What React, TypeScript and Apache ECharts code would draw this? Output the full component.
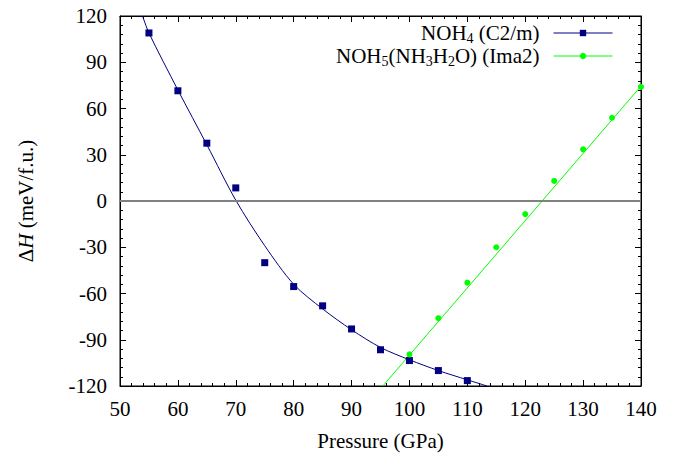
import React, { useEffect, useRef } from "react";
import * as echarts from "echarts";

const noh4Pressure = [55, 60, 65, 70, 75, 80, 85, 90, 95, 100, 105, 110];
const noh4Enthalpy = [109, 71.5, 37.5, 8.5, -40, -55.5, -68, -83, -96.5, -103.5, -110, -116.5];

const noh4FitPressure = [53.9, 55, 60, 65, 70, 75, 80, 85, 90, 95, 100, 105, 110, 113.4];
const noh4FitEnthalpy = [120, 109, 72, 36.5, 0.5, -29, -54, -70, -83.5, -95, -103, -110, -116, -120];

const noh5Pressure = [100, 105, 110, 115, 120, 125, 130, 135, 140];
const noh5Enthalpy = [-99.5, -76, -53, -30, -8.5, 13, 33.5, 54, 74];

const noh5FitPressure = [95.4, 140];
const noh5FitEnthalpy = [-120, 74.5];

const xTicks = { min: 50, max: 140, interval: 10 };
const yTicks = { min: -120, max: 120, interval: 30 };

const BLUE = "#000080";
const GREEN = "#00ff00";
const FONT = "Liberation Serif, DejaVu Serif, serif";

const zip = (xs: number[], ys: number[]) => xs.map((x, i) => [x, ys[i]]);

export default function App() {
  const ref = useRef<HTMLDivElement>(null);
  useEffect(() => {
    if (!ref.current) return;
    const chart = echarts.init(ref.current, null, { renderer: "svg" });
    const axisCommon = {
      axisLine: { show: true, onZero: false, lineStyle: { color: "#000", width: 1 } },
      axisTick: { show: true, inside: true, length: 6, lineStyle: { color: "#000" } },
      minorTick: { show: true, splitNumber: 5, length: 3, lineStyle: { color: "#000" } },
      splitLine: { show: false },
      minorSplitLine: { show: false },
    };
    const legendText = {
      fontFamily: FONT,
      fontSize: 21,
      color: "#000",
      lineHeight: 24,
      padding: [0, 9, 0, 0],
      rich: {
        s: { fontFamily: FONT, fontSize: 14, lineHeight: 24, verticalAlign: "bottom", padding: [9, 0, 0, 0], color: "#000" },
      },
    };
    const fmt = (name: string) =>
      name === "NOH4 (C2/m)" ? "NOH{s|4} (C2/m)" : "NOH{s|5}(NH{s|3}H{s|2}O) (Ima2)";
    chart.setOption({
      animation: false,
      backgroundColor: "#fff",
      textStyle: { fontFamily: FONT },
      grid: { left: 120, right: 41, top: 16, bottom: 71, show: true, borderColor: "#000", borderWidth: 1 },
      legend: [
        {
          data: ["NOH4 (C2/m)"],
          orient: "vertical",
          right: 69,
          top: 21,
          padding: 0,
          align: "right",
          itemWidth: 59,
          itemHeight: 8,
          formatter: fmt,
          textStyle: legendText,
          lineStyle: { width: 1, color: BLUE, opacity: 1 },
          selectedMode: false,
        },
        {
          data: ["NOH5(NH3H2O) (Ima2)"],
          orient: "vertical",
          right: 69,
          top: 44,
          padding: 0,
          align: "right",
          itemWidth: 59,
          itemHeight: 8,
          formatter: fmt,
          textStyle: legendText,
          lineStyle: { width: 1, color: GREEN, opacity: 1 },
          selectedMode: false,
        },
      ],
      xAxis: [
        {
          type: "value",
          ...xTicks,
          position: "bottom",
          ...axisCommon,
          axisLabel: { fontFamily: FONT, fontSize: 21, color: "#000", margin: 12 },
          name: "Pressure (GPa)",
          nameLocation: "middle",
          nameGap: 44,
          nameTextStyle: { fontFamily: FONT, fontSize: 21, color: "#000" },
        },
        {
          type: "value",
          ...xTicks,
          position: "top",
          ...axisCommon,
          axisLabel: { show: false },
        },
      ],
      yAxis: [
        {
          type: "value",
          ...yTicks,
          position: "left",
          ...axisCommon,
          axisLabel: { fontFamily: FONT, fontSize: 21, color: "#000", margin: 13 },
          name: "Δ{i|H} (meV/f.u.)",
          nameLocation: "middle",
          nameGap: 84,
          nameRotate: 90,
          nameTextStyle: {
            fontFamily: FONT,
            fontSize: 21,
            color: "#000",
            rich: { i: { fontFamily: FONT, fontSize: 21, fontStyle: "italic", color: "#000" } },
          },
        },
        {
          type: "value",
          ...yTicks,
          position: "right",
          ...axisCommon,
          axisLabel: { show: false },
        },
      ],
      series: [
        {
          name: "NOH4 fit",
          type: "line",
          data: zip(noh4FitPressure, noh4FitEnthalpy),
          smooth: 0.3,
          showSymbol: false,
          symbol: "none",
          lineStyle: { color: BLUE, width: 1 },
          z: 3,
          markLine: {
            silent: true,
            symbol: "none",
            label: { show: false },
            lineStyle: { color: "#808080", width: 2, type: "solid" },
            data: [{ yAxis: 0 }],
          },
        },
        {
          name: "NOH5 fit",
          type: "line",
          data: zip(noh5FitPressure, noh5FitEnthalpy),
          showSymbol: false,
          symbol: "none",
          lineStyle: { color: GREEN, width: 1 },
          z: 3,
        },
        {
          name: "NOH4 (C2/m)",
          type: "line",
          data: zip(noh4Pressure, noh4Enthalpy),
          symbol: "rect",
          symbolSize: 7,
          showAllSymbol: true,
          itemStyle: { color: BLUE },
          lineStyle: { width: 0, opacity: 0 },
          z: 5,
        },
        {
          name: "NOH5(NH3H2O) (Ima2)",
          type: "line",
          data: zip(noh5Pressure, noh5Enthalpy),
          symbol: "circle",
          symbolSize: 6,
          showAllSymbol: true,
          itemStyle: { color: GREEN },
          lineStyle: { width: 0, opacity: 0 },
          z: 5,
        },
      ],
    });
    return () => chart.dispose();
  }, []);
  return <div ref={ref} style={{ position: "fixed", left: 0, top: 0, width: 682, height: 457 }} />;
}
